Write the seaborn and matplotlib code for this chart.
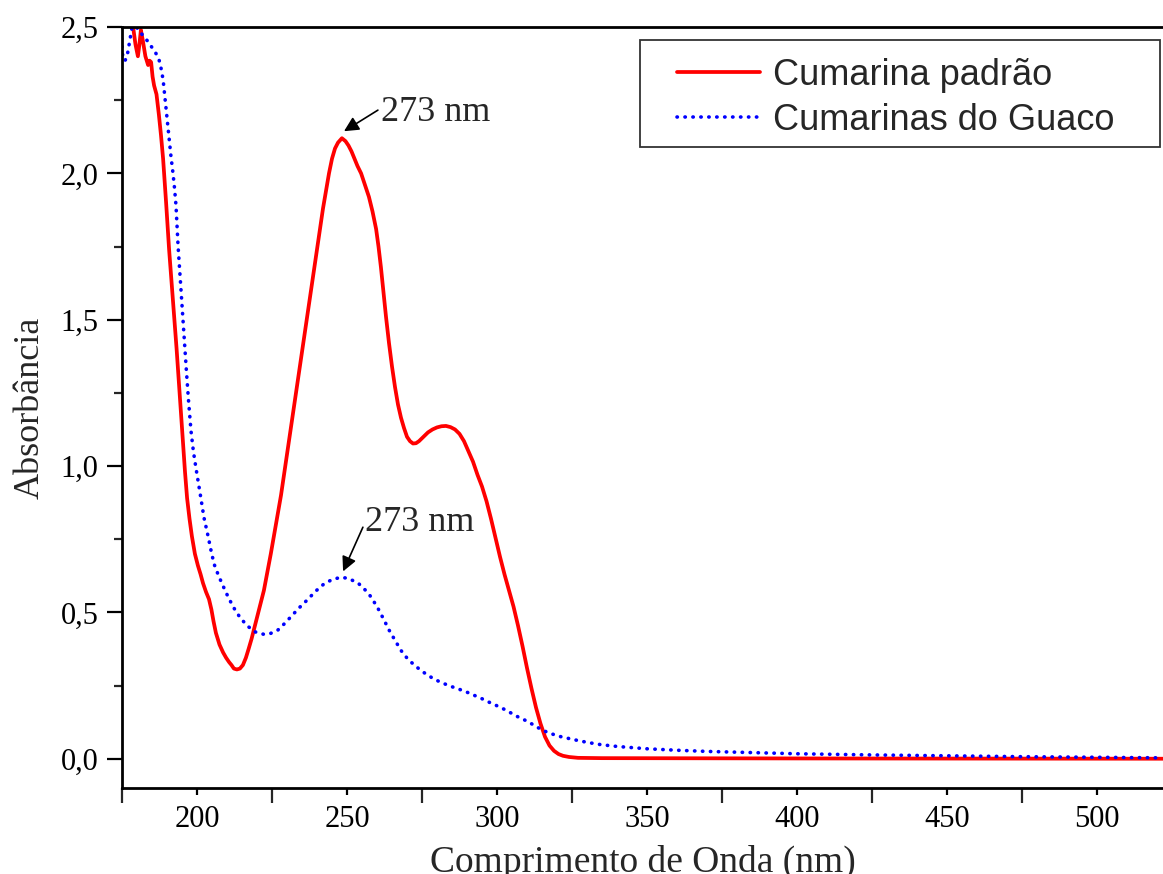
import matplotlib
matplotlib.use("Agg")
import matplotlib.pyplot as plt
from matplotlib.patches import Rectangle
from matplotlib.ticker import MultipleLocator, FuncFormatter
import seaborn as sns

# Espectro UV - Cumarina padrão
nm_padrao = [176, 178.7, 179.5, 180.3, 180.8, 181.3, 182, 182.8, 183.7, 184.2,
             184.7, 185.2, 185.7, 186.5, 187.3, 188, 188.7, 189.7, 190.7, 191.5,
             192.3, 193.2, 194, 194.7, 195.3, 196, 196.7, 197.5, 198.3, 199.3,
             200.3, 201.2, 202, 203, 204, 204.8, 205.5, 206.3, 207.5, 208.7,
             209.7, 210.7, 211.5, 212.3, 213.3, 214.3, 215.3, 216.3, 217.2, 218.2,
             219.2, 220.2, 221.2, 222.3, 223.5, 224.6, 225.7, 226.8, 228, 229,
             230, 231, 232, 233, 234, 235, 236, 237, 238, 239,
             240, 241, 242, 243, 244, 245, 246, 247, 248.3, 249.5,
             250.5, 251.5, 252.5, 253.5, 254.7, 256, 257.3, 258.5, 259.7, 260.5,
             261.3, 262.2, 263, 264, 265, 266, 267, 268, 269, 270,
             271, 272, 273, 274, 275, 276, 277, 278.5, 280, 281.5,
             283, 284.5, 286, 287.5, 289, 290.5, 292, 293.5, 295, 296.5,
             298, 299.5, 301, 302.5, 304, 305.5, 307, 308.5, 310, 311.5,
             313, 314.5, 316, 317.5, 319, 320.5, 322, 324, 327, 335,
             400, 522]
abs_padrao = [2.75, 2.5, 2.44, 2.40, 2.44, 2.49, 2.45, 2.40, 2.37, 2.385,
              2.38, 2.33, 2.30, 2.27, 2.20, 2.13, 2.05, 1.90, 1.74, 1.63,
              1.52, 1.40, 1.28, 1.18, 1.08, 0.98, 0.89, 0.82, 0.76, 0.70,
              0.66, 0.63, 0.60, 0.57, 0.545, 0.51, 0.47, 0.43, 0.39, 0.363,
              0.345, 0.33, 0.32, 0.308, 0.305, 0.308, 0.32, 0.345, 0.375, 0.41,
              0.45, 0.49, 0.53, 0.575, 0.64, 0.70, 0.765, 0.83, 0.90, 0.97,
              1.04, 1.11, 1.18, 1.25, 1.32, 1.39, 1.46, 1.53, 1.60, 1.67,
              1.74, 1.81, 1.88, 1.94, 2.00, 2.05, 2.085, 2.105, 2.12, 2.11,
              2.095, 2.075, 2.05, 2.025, 2.0, 1.96, 1.92, 1.87, 1.81, 1.75,
              1.68, 1.59, 1.51, 1.42, 1.34, 1.27, 1.21, 1.165, 1.13, 1.10,
              1.085, 1.077, 1.078, 1.085, 1.095, 1.105, 1.115, 1.125, 1.132, 1.136,
              1.137, 1.133, 1.125, 1.11, 1.085, 1.05, 1.015, 0.97, 0.93, 0.88,
              0.82, 0.755, 0.69, 0.63, 0.575, 0.52, 0.455, 0.385, 0.31, 0.24,
              0.175, 0.12, 0.075, 0.045, 0.027, 0.016, 0.01, 0.006, 0.003, 0.002,
              0.001, 0.0]

# Espectro UV - Cumarinas do Guaco
nm_guaco = [174, 175.3, 176, 176.7, 177.7, 178.7, 179.7, 180.7, 182, 183.7,
            185, 186.3, 187.3, 188, 188.7, 189.2, 189.7, 190.2, 190.7, 191.3,
            192, 192.5, 193, 193.7, 195, 196.5, 197.2, 198, 198.8, 199.7,
            201.3, 202.3, 203.7, 204.7, 205.7, 207.2, 208.7, 210.5, 212.3, 214.5,
            217, 219.5, 222.3, 224.5, 227, 229, 231.3, 234, 237, 239.5,
            242.3, 245, 248, 250.5, 253.7, 255.5, 257.5, 260, 262.3, 264,
            265.7, 268, 270.3, 273, 275.7, 279, 282, 284.7, 287.5, 290.3,
            293, 295, 298, 301.3, 304, 307, 310.3, 313.5, 317, 321,
            325.7, 330, 334.7, 340, 350, 360, 370, 385, 400, 425,
            450, 475, 500, 522]
abs_guaco = [2.6, 2.39, 2.385, 2.40, 2.46, 2.52, 2.50, 2.49, 2.47, 2.45,
             2.43, 2.41, 2.39, 2.36, 2.32, 2.27, 2.22, 2.17, 2.12, 2.06,
             2.0, 1.95, 1.89, 1.75, 1.55, 1.32, 1.22, 1.12, 1.05, 0.99,
             0.89, 0.825, 0.76, 0.71, 0.665, 0.625, 0.59, 0.55, 0.515, 0.48,
             0.452, 0.433, 0.425, 0.428, 0.44, 0.46, 0.485, 0.515, 0.545, 0.572,
             0.597, 0.612, 0.62, 0.616, 0.60, 0.583, 0.56, 0.52, 0.475, 0.44,
             0.41, 0.37, 0.34, 0.315, 0.294, 0.272, 0.258, 0.247, 0.237, 0.226,
             0.214, 0.205, 0.19, 0.175, 0.16, 0.143, 0.127, 0.107, 0.089, 0.076,
             0.065, 0.056, 0.048, 0.042, 0.034, 0.029, 0.025, 0.021, 0.017, 0.013,
             0.01, 0.007, 0.005, 0.003]

rotulos = ["Cumarina padrão", "Cumarinas do Guaco"]
texto_pico = "273 nm"

sns.set_theme(style="ticks")
plt.rcParams["font.family"] = ["Liberation Serif", "DejaVu Serif"]

fig = plt.figure(figsize=(11.63, 8.74), dpi=100)
ax = fig.add_axes([0.1049, 0.0984, 0.8951, 0.8707])

sns.lineplot(x=nm_padrao, y=abs_padrao, ax=ax, color="#ff0000", lw=2.7,
             label=rotulos[0])
sns.lineplot(x=nm_guaco, y=abs_guaco, ax=ax, color="#0000ff", lw=2.6,
             linestyle=(0, (0.1, 2.1)), dash_capstyle="round", label=rotulos[1])

ax.set_xlim(175, 522)
ax.set_ylim(-0.1, 2.5)
ax.xaxis.set_major_locator(MultipleLocator(50))
ax.xaxis.set_minor_locator(MultipleLocator(25))
ax.yaxis.set_major_locator(MultipleLocator(0.5))
ax.yaxis.set_minor_locator(MultipleLocator(0.25))
ax.yaxis.set_major_formatter(FuncFormatter(lambda v, p: f"{v:.1f}".replace(".", ",")))

for s in ["left", "bottom", "top"]:
    ax.spines[s].set_linewidth(2.0)
    ax.spines[s].set_color("black")
ax.spines["right"].set_visible(False)

ax.tick_params(axis="y", which="major", length=11, width=1.6, pad=6, labelsize=22, colors="black")
ax.tick_params(axis="y", which="minor", length=5.5, width=1.6)
ax.tick_params(axis="x", which="major", length=5, width=1.6, pad=7, labelsize=22, colors="black")
ax.tick_params(axis="x", which="minor", length=11, width=1.6)

ax.set_xlabel("Comprimento de Onda (nm)", fontsize=27, labelpad=8)
ax.set_ylabel("Absorbância", fontsize=26, labelpad=10)

# anotações dos picos
seta = dict(arrowstyle="-|>", color="black", lw=1.2, mutation_scale=22, shrinkA=0, shrinkB=0)
ax.annotate("", xy=(249, 2.144), xytext=(260.3, 2.216), arrowprops=seta)
ax.text(261.5, 2.178, texto_pico, fontsize=26, ha="left", va="baseline")
ax.annotate("", xy=(248.7, 0.64), xytext=(255.3, 0.791), arrowprops=seta)
ax.text(256, 0.777, texto_pico, fontsize=26, ha="left", va="baseline")

# legenda com moldura própria
ax.add_patch(Rectangle((0.4976, 0.842), 0.4995, 0.141, transform=ax.transAxes,
                       fill=False, ec="#333333", lw=1.3, zorder=5))
ax.legend(loc="center left", bbox_to_anchor=(0.533, 0.907), frameon=False,
          borderpad=0, borderaxespad=0, handlelength=2.3, handletextpad=0.35,
          labelspacing=0.28, prop={"family": "Liberation Sans", "size": 26})

fig.savefig("out.png", dpi=100)
